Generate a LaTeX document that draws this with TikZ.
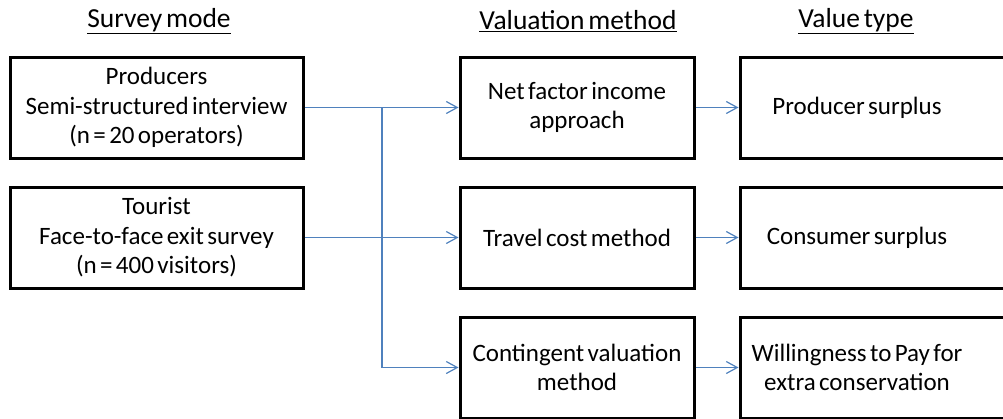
\documentclass[tikz,border=0pt]{standalone}
\usepackage{fontspec}
\setmainfont[WordSpace=0.6]{Carlito}
\usetikzlibrary{arrows.meta}

\begin{document}
\begin{tikzpicture}[x=1pt, y=-1pt,
    font=\fontsize{25}{29.5}\selectfont,
    box/.style={draw=black, line width=3pt, minimum height=101pt, align=center, inner sep=0pt},
    flow/.style={draw={rgb,255:red,79;green,129;blue,189}, line width=1.2pt},
    tip/.style={-{Straight Barb[length=11pt, width=12pt, line width=1.2pt]}},
    heading/.style={align=center, font=\fontsize{27.5}{32}\selectfont}]

    \clip (0,0) rectangle (1003,418);

    % Column headings
    \node[heading] (hsurvey) at (159,21) {\underline{Survey mode}};
    \node[heading] (hmethod) at (578,21) {\underline{Valuation method}};
    \node[heading] (htype) at (856,21) {\underline{Value type}};

    % Survey mode boxes
    \node[box, minimum width=293pt] (prod) at (156.5,107.5) {Producers\\Semi-structured interview\\(n = 20 operators)};
    \node[box, minimum width=293pt] (tour) at (156.5,237.5) {Tourist\\Face-to-face exit survey\\(n = 400 visitors)};

    % Valuation method boxes
    \node[box, minimum width=234pt] (net) at (577,107.5) {Net factor income\\approach};
    \node[box, minimum width=234pt] (travel) at (577,237.5) {Travel cost method};
    \node[box, minimum width=234pt] (cv) at (577,367.5) {Contingent valuation\\method};

    % Value type boxes (run past the right edge)
    \node[box, minimum width=300pt] (psurplus) at (890,107.5) {};
    \node[box, minimum width=300pt] (csurplus) at (890,237.5) {};
    \node[box, minimum width=300pt] (wtp) at (890,367.5) {};
    \node (pstext) at (857,107.5) {Producer surplus};
    \node (cstext) at (857,237.5) {Consumer surplus};
    \node[align=center] (wtptext) at (857,367.5) {Willingness to Pay for\\extra conservation};

    % Survey mode -> valuation method
    \coordinate (split) at (382,107.5);
    \draw[flow, tip] (prod.east) -- (net.west);
    \draw[flow, tip] (tour.east) -- (travel.west);
    \draw[flow, tip] (split) |- (cv.west);

    % Valuation method -> value type
    \draw[flow, tip] (net.east) -- (psurplus.west);
    \draw[flow, tip] (travel.east) -- (csurplus.west);
    \draw[flow, tip] (cv.east) -- (wtp.west);

\end{tikzpicture}
\end{document}
